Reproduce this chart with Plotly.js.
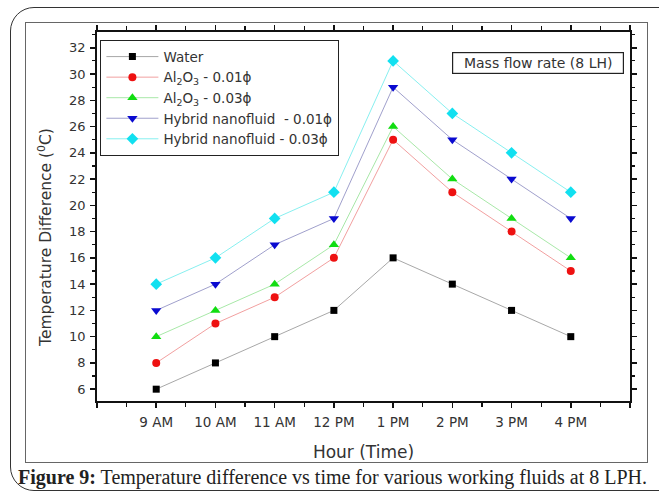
<!DOCTYPE html>
<html>
<head>
<meta charset="utf-8">
<script src="https://cdn.plot.ly/plotly-3.0.1.min.js"></script>
<style>
  html, body { margin:0; padding:0; background:#fff; overflow:hidden; }
  #wrap { position:relative; width:659px; height:495px; overflow:hidden; }
  #outer { position:absolute; left:10px; top:7px; width:700px; height:484px; border:1.5px solid #333; border-radius:24px; box-sizing:border-box; pointer-events:none; }
  #inner { position:absolute; left:25px; top:22px; width:623px; height:441px; border:1px solid #666; box-sizing:border-box; pointer-events:none; }
  #chart { position:absolute; left:0; top:0; width:659px; height:495px; }
</style>
</head>
<body>
<div id="wrap">
  <div id="chart"></div>
  <div id="inner"></div>
  <div id="outer"></div>
</div>
<script>
const hours = ["9 AM", "10 AM", "11 AM", "12 PM", "1 PM", "2 PM", "3 PM", "4 PM"];
const water = [6, 8, 10, 12, 16, 14, 12, 10];
const al2o3_001 = [8, 11, 13, 16, 25, 21, 18, 15];
const al2o3_003 = [10, 12, 14, 17, 26, 22, 19, 16];
const hybrid_001 = [12, 14, 17, 19, 29, 25, 22, 19];
const hybrid_003 = [14, 16, 19, 21, 31, 27, 24, 21];
const yTicks = [6, 8, 10, 12, 14, 16, 18, 20, 22, 24, 26, 28, 30, 32];

const xIdx = hours.map((_, i) => i);

const series = [
  {name: "Water", y: water, line: "#a8a8a8", color: "#000000", symbol: "square", size: 7},
  {name: "Al<sub>2</sub>O<sub>3</sub> - 0.01\u03d5", y: al2o3_001, line: "#f2a0a0", color: "#ee1111", symbol: "circle", size: 8},
  {name: "Al<sub>2</sub>O<sub>3</sub> - 0.03\u03d5", y: al2o3_003, line: "#a8e8a8", color: "#11dd11", symbol: "triangle-up", size: 9},
  {name: "Hybrid nanofluid \u00a0- 0.01\u03d5", y: hybrid_001, line: "#a0a0cc", color: "#0a0ad0", symbol: "triangle-down", size: 9},
  {name: "Hybrid nanofluid - 0.03\u03d5", y: hybrid_003, line: "#88f0f0", color: "#11e0f0", symbol: "diamond", size: 9}
];

const traces = series.map(s => ({
  x: xIdx, y: s.y, name: s.name, type: "scatter", mode: "lines+markers",
  line: {color: s.line, width: 1},
  marker: {color: s.color, symbol: s.symbol, size: s.size, line: {width: 0}}
}));

const FF = "DejaVu Sans, Verdana, sans-serif";

const layout = {
  width: 659, height: 495,
  margin: {l: 97, r: 29, t: 32, b: 94},
  paper_bgcolor: "rgba(0,0,0,0)", plot_bgcolor: "#fff",
  showlegend: true,
  font: {family: FF, color: "#222"},
  xaxis: {
    range: [-1, 8], tickmode: "array",
    tickvals: [-1].concat(xIdx, [8]), ticktext: [""].concat(hours, [""]),
    ticks: "outside", ticklen: 5, tickwidth: 1.5, tickcolor: "#111", ticklabelstandoff: 3,
    minor: {dtick: 0.5, tick0: -1, ticks: "outside", ticklen: 4, tickwidth: 1.2, tickcolor: "#111"},
    showline: true, linecolor: "#111", linewidth: 1.8, mirror: "allticks",
    showgrid: false, zeroline: false, tickfont: {family: FF, size: 13.5, color: "#333"},
    title: {text: "Hour (Time)", font: {family: FF, size: 17, color: "#333"}, standoff: 17}
  },
  yaxis: {
    range: [5.1, 33.2], tickmode: "array", tickvals: yTicks, ticktext: yTicks.map(String),
    ticks: "outside", ticklen: 5, tickwidth: 1.5, tickcolor: "#111", ticklabelstandoff: 2,
    minor: {dtick: 1, tick0: 0, ticks: "outside", ticklen: 3, tickwidth: 1.2, tickcolor: "#111"},
    showline: true, linecolor: "#111", linewidth: 1.8, mirror: "allticks",
    showgrid: false, zeroline: false, tickfont: {family: FF, size: 13, color: "#333"}
  },
  legend: {
    x: 0.006, y: 0.978, xanchor: "left", yanchor: "top",
    bgcolor: "#fff", bordercolor: "#222", borderwidth: 1.2,
    font: {family: FF, size: 13.5, color: "#333"}, tracegroupgap: 0, itemwidth: 52
  },
  annotations: [
    {xref: "paper", yref: "paper", x: -0.098, y: 0.444, xanchor: "center", yanchor: "middle",
     textangle: -90, text: "Temperature Difference (<sup>0</sup>C)", showarrow: false,
     font: {family: FF, size: 15.5, color: "#333"}},
    {xref: "paper", yref: "paper", x: 0.827, y: 0.916, xanchor: "center", yanchor: "middle",
     text: "Mass flow rate (8 LH)", showarrow: false, font: {family: FF, size: 14, color: "#333"},
     bordercolor: "#222", borderwidth: 1.2, borderpad: 2, width: 166, height: 16, bgcolor: "#fff"},
    {xref: "paper", yref: "paper", x: -0.152, y: -0.207, xanchor: "left", yanchor: "middle",
     text: "<b>Figure 9:</b> Temperature difference vs time for various working fluids at 8 LPH.",
     showarrow: false, font: {family: "Liberation Serif, Times New Roman, serif", size: 20, color: "#222"}}
  ]
};

Plotly.newPlot("chart", traces, layout, {staticPlot: true, displayModeBar: false});
</script>
</body>
</html>
